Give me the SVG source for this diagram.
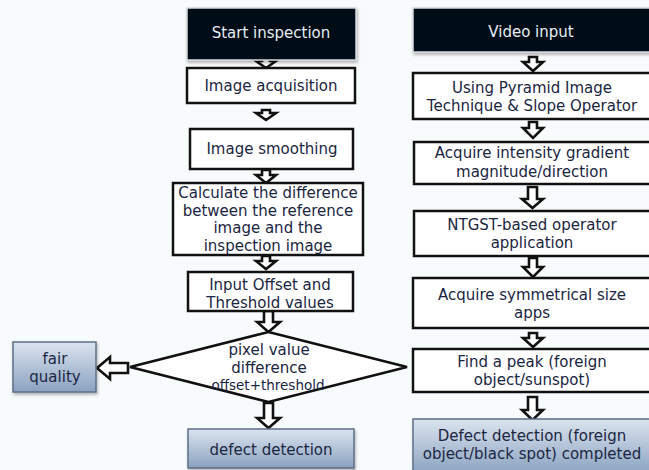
<svg xmlns="http://www.w3.org/2000/svg" width="649" height="470" viewBox="0 0 649 470">
<defs>
<linearGradient id="blue" x1="0" y1="0" x2="0" y2="1">
<stop offset="0" stop-color="#dbe4ef"/>
<stop offset="1" stop-color="#8aa2c0"/>
</linearGradient>
<filter id="sh" x="-10%" y="-10%" width="130%" height="140%">
<feDropShadow dx="1" dy="2" stdDeviation="1.5" flood-color="#000" flood-opacity="0.3"/>
</filter>
</defs>
<style>
text{font-family:"DejaVu Sans","Verdana",sans-serif;font-size:15px;fill:#1b2642;text-anchor:middle}
.w{fill:#e4ecf4}
.box{fill:#ffffff;stroke:#111;stroke-width:2.5}
.dark{fill:#050812;stroke:#d6d9de;stroke-width:1.5}
.blue{fill:url(#blue);stroke:#5f6f86;stroke-width:1.5}
.arr{fill:#ffffff;stroke:#111;stroke-width:2.6;stroke-linejoin:miter}
.sm{font-size:13.5px}
</style>
<rect x="0" y="0" width="649" height="470" fill="#f8fbfc"/>

<g id="connectors">
<path class="arr" d="M262,59 L270,59 L270,61 L276,61 L266,68 L256,61 L262,61 Z"/>
<path class="arr" d="M262,110 L270,110 L270,113 L276,113 L266,120 L256,113 L262,113 Z"/>
<path class="arr" d="M262,170 L270,170 L270,175 L276,175 L266,183 L256,175 L262,175 Z"/>
<path class="arr" d="M262,256 L270,256 L270,261 L276,261 L266,269 L256,261 L262,261 Z"/>
<path class="arr" d="M264,311 L273,311 L273,322 L280,322 L268.5,332 L257,322 L264,322 Z"/>
<path class="arr" d="M264,403 L273,403 L273,418 L280,418 L268.5,428 L257,418 L264,418 Z"/>
<path class="arr" d="M128,363 L128,373 L110,373 L110,379 L97,368 L110,357 L110,363 Z"/>
<path class="arr" d="M529,57 L537,57 L537,62 L543,62 L533,71 L523,62 L529,62 Z"/>
<path class="arr" d="M529,122 L537,122 L537,128 L543,128 L533,138 L523,128 L529,128 Z"/>
<path class="arr" d="M528,187 L537,187 L537,199 L543,199 L532.5,208 L522,199 L528,199 Z"/>
<path class="arr" d="M529,258 L537,258 L537,267 L543,267 L533,277 L523,267 L529,267 Z"/>
<path class="arr" d="M529,333 L537,333 L537,338 L543,338 L533,347 L523,338 L529,338 Z"/>
<path class="arr" d="M528,397 L537,397 L537,410 L543,410 L532.5,420 L522,410 L528,410 Z"/>
</g>

<g id="start">
<rect class="dark" x="187" y="8" width="169" height="52" filter="url(#sh)"/>
<text class="w" x="271" y="38">Start inspection</text>
</g>
<g id="acq">
<rect class="box" x="187" y="68" width="168" height="35"/>
<text x="271" y="91">Image acquisition</text>
</g>
<g id="smooth">
<rect class="box" x="190" y="129" width="163" height="40"/>
<text x="272" y="154">Image smoothing</text>
</g>
<g id="calc">
<rect class="box" x="173" y="183" width="190" height="72"/>
<text x="268" y="198">Calculate the difference</text>
<text x="268" y="216">between the reference</text>
<text x="268" y="233">image and the</text>
<text x="268" y="251">inspection image</text>
</g>
<g id="input">
<rect class="box" x="188" y="272" width="165" height="39"/>
<text x="270" y="290">Input Offset and</text>
<text x="270" y="308">Threshold values</text>
</g>
<g id="diamond">
<polygon class="box" points="268.5,332 407,367 268.5,402 130,367"/>
<text x="269" y="355">pixel value</text>
<text x="269" y="373">difference</text>
<text class="sm" x="268" y="390">offset+threshold</text>
</g>
<g id="fair">
<rect class="blue" x="13" y="342" width="83" height="50" filter="url(#sh)"/>
<text x="55" y="364">fair</text>
<text x="55" y="382">quality</text>
</g>
<g id="defect">
<rect class="blue" x="188" y="429" width="166" height="39" filter="url(#sh)"/>
<text x="271" y="455">defect detection</text>
</g>

<g id="video">
<rect class="dark" x="413" y="8" width="240" height="44" filter="url(#sh)"/>
<text class="w" x="531" y="37">Video input</text>
</g>
<g id="pyramid">
<rect class="box" x="413" y="73" width="240" height="46"/>
<text x="532" y="93">Using Pyramid Image</text>
<text x="532" y="111">Technique &amp; Slope Operator</text>
</g>
<g id="intensity">
<rect class="box" x="414" y="142" width="239" height="42"/>
<text x="532" y="158">Acquire intensity gradient</text>
<text x="532" y="177">magnitude/direction</text>
</g>
<g id="ntgst">
<rect class="box" x="414" y="211" width="239" height="45"/>
<text x="532" y="230">NTGST-based operator</text>
<text x="532" y="248">application</text>
</g>
<g id="symm">
<rect class="box" x="413" y="278" width="240" height="50"/>
<text x="532" y="300">Acquire symmetrical size</text>
<text x="532" y="318">apps</text>
</g>
<g id="peak">
<rect class="box" x="413" y="349" width="240" height="43"/>
<text x="532" y="367">Find a peak (foreign</text>
<text x="532" y="385">object/sunspot)</text>
</g>
<g id="complete">
<rect class="blue" x="413" y="419" width="240" height="55" filter="url(#sh)"/>
<text x="532" y="441">Defect detection (foreign</text>
<text x="532" y="459">object/black spot) completed</text>
</g>
</svg>
